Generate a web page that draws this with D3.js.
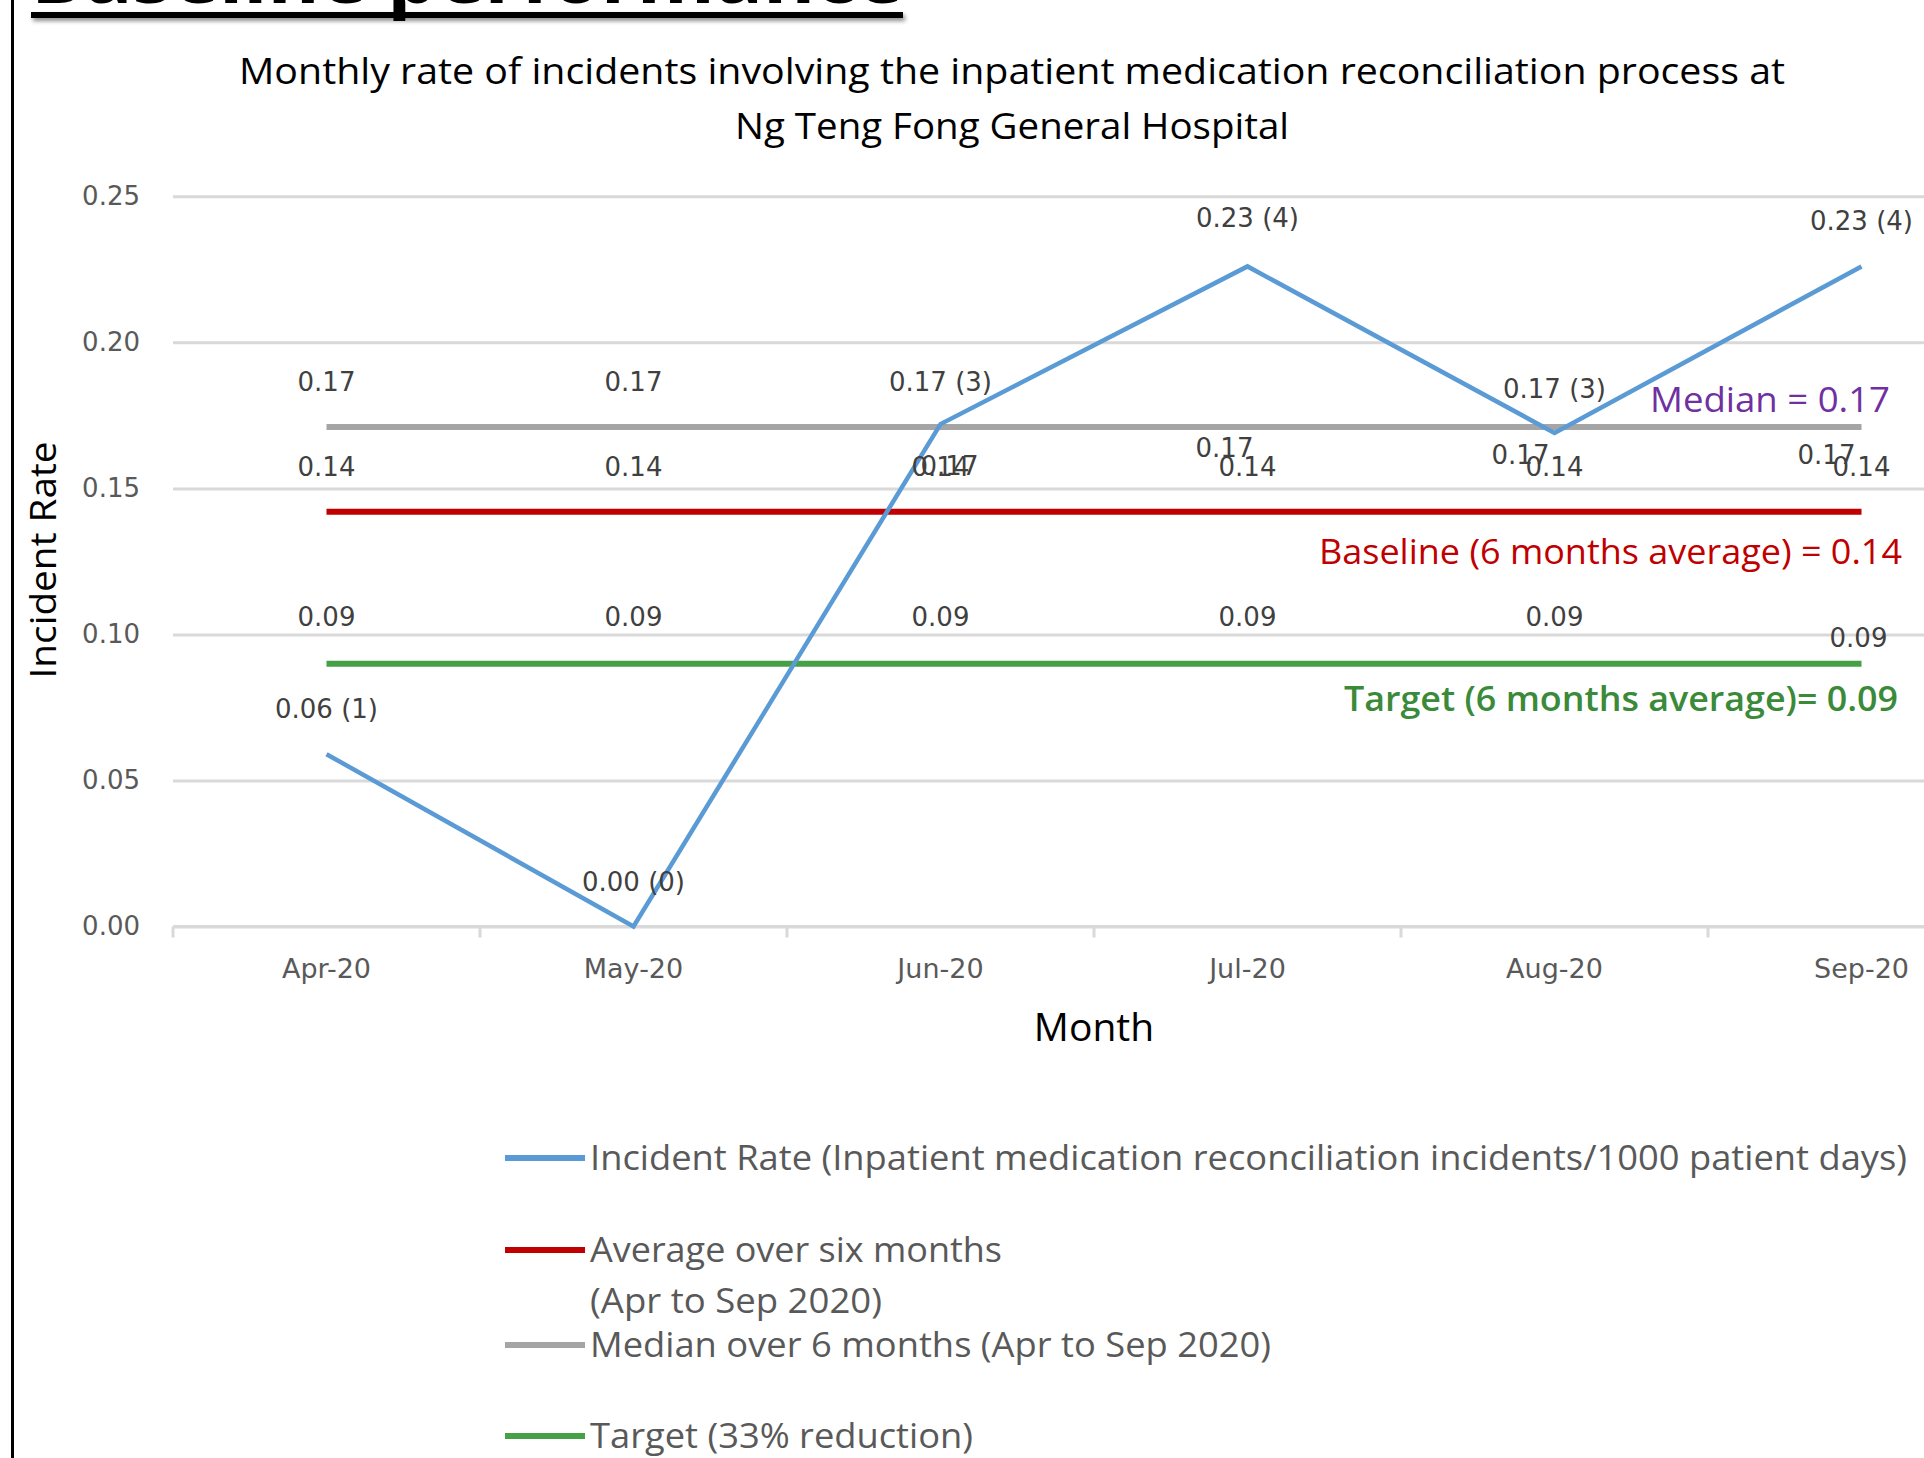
<!DOCTYPE html>
<html>
<head>
<meta charset="utf-8">
<script src="https://cdn.jsdelivr.net/npm/d3@7"></script>
<style>
  html, body { margin: 0; padding: 0; background: #ffffff; }
  svg { display: block; }
</style>
</head>
<body>
<svg id="chart" width="1924" height="1458"></svg>
<script>
// ---------------- DATA ----------------
const months = ["Apr-20", "May-20", "Jun-20", "Jul-20", "Aug-20", "Sep-20"];
const incidentRate = [0.059, 0.000, 0.172, 0.226, 0.169, 0.226];
const incidentCounts = [1, 0, 3, 4, 3, 4];
const medianValues = [0.171, 0.171, 0.171, 0.171, 0.171, 0.171];
const baselineValues = [0.142, 0.142, 0.142, 0.142, 0.142, 0.142];
const targetValues = [0.090, 0.090, 0.090, 0.090, 0.090, 0.090];
const yTicks = [0.00, 0.05, 0.10, 0.15, 0.20, 0.25];

const headerText = "Baseline performance";
const titleLines = [
  "Monthly rate of incidents involving the inpatient medication reconciliation process at",
  "Ng Teng Fong General Hospital"
];
const yLabel = "Incident Rate";
const xLabel = "Month";
const medianNote = "Median = 0.17";
const baselineNote = "Baseline (6 months average) = 0.14";
const targetNote = "Target (6 months average)= 0.09";
const legendItems = [
  { lines: ["Incident Rate (Inpatient medication reconciliation incidents/1000 patient days)"], color: "#5B9BD5" },
  { lines: ["Average over six months", "(Apr to Sep 2020)"], color: "#C00000" },
  { lines: ["Median over 6 months (Apr to Sep 2020)"], color: "#A5A5A5" },
  { lines: ["Target (33% reduction)"], color: "#46A046" }
];

// ---------------- LAYOUT ----------------
const svg = d3.select("#chart");
const plotLeft = 173, plotRight = 2015, plotTop = 196.3, plotBottom = 926.5;
const fmt = d3.format(".2f");

const x = d3.scaleBand().domain(months).range([plotLeft, plotRight]).padding(0);
const cx = m => x(m) + x.bandwidth() / 2;
const y = d3.scaleLinear().domain([0, 0.25]).range([plotBottom, plotTop]);

// drop shadow filter for header underline
const defs = svg.append("defs");
const f = defs.append("filter").attr("id", "shadow").attr("x", "-5%").attr("y", "-100%").attr("width", "110%").attr("height", "400%");
f.append("feDropShadow").attr("dx", 2).attr("dy", 3).attr("stdDeviation", 2).attr("flood-color", "#000").attr("flood-opacity", 0.45);

// left border
svg.append("rect").attr("x", 11).attr("y", 0).attr("width", 3).attr("height", 1458).attr("fill", "#000");

// header (cut off at top)
svg.append("text").attr("x", 31).attr("y", 3)
  .attr("font-family", "'Open Sans', sans-serif").attr("font-weight", 700)
  .attr("font-size", 74).attr("fill", "#000")
  .attr("textLength", 872).attr("lengthAdjust", "spacingAndGlyphs")
  .text(headerText);
svg.append("rect").attr("x", 31).attr("y", 12).attr("width", 872).attr("height", 6)
  .attr("fill", "#000").attr("filter", "url(#shadow)");

// chart title
const titleY = [71, 126];
const titleW = [1546, 554];
titleLines.forEach((t, i) => {
  svg.append("text").attr("x", 1012).attr("y", titleY[i]).attr("dy", "0.35em")
    .attr("text-anchor", "middle")
    .attr("font-family", "'Open Sans', sans-serif").attr("font-size", 37).attr("fill", "#000")
    .attr("textLength", titleW[i]).attr("lengthAdjust", "spacingAndGlyphs")
    .text(t);
});

// gridlines
const grid = svg.append("g").attr("transform", `translate(${plotLeft},0)`)
  .call(d3.axisLeft(y).tickValues(yTicks).tickSize(-(plotRight - plotLeft)).tickFormat(""));
grid.select(".domain").remove();
grid.selectAll("line").attr("stroke", "#D9D9D9").attr("stroke-width", 3);

// y axis labels
const yAxis = svg.append("g").attr("transform", `translate(${plotLeft},0)`)
  .call(d3.axisLeft(y).tickValues(yTicks).tickSize(0).tickPadding(33).tickFormat(fmt));
yAxis.select(".domain").remove();
yAxis.selectAll("text").attr("font-family", "'DejaVu Sans', sans-serif").attr("font-size", 26)
  .attr("fill", "#595959");

// x axis
const xAxis = svg.append("g").attr("transform", `translate(0,${plotBottom})`)
  .call(d3.axisBottom(x).tickSize(0).tickPadding(32));
xAxis.select(".domain").remove();
xAxis.selectAll("text").attr("font-family", "'DejaVu Sans', sans-serif").attr("font-size", 27)
  .attr("fill", "#595959");
svg.append("line").attr("x1", plotLeft).attr("x2", plotRight).attr("y1", y(0)).attr("y2", y(0))
  .attr("stroke", "#D9D9D9").attr("stroke-width", 3);
const boundaries = months.map(m => x(m)).concat([x(months[months.length - 1]) + x.bandwidth()]);
svg.selectAll("line.bt").data(boundaries).enter().append("line").attr("class", "bt")
  .attr("x1", d => d).attr("x2", d => d).attr("y1", y(0)).attr("y2", y(0) + 11)
  .attr("stroke", "#D9D9D9").attr("stroke-width", 3);

// axis titles
svg.append("text").attr("transform", "translate(43,560) rotate(-90)").attr("dy", "0.35em")
  .attr("text-anchor", "middle").attr("font-family", "'Open Sans', sans-serif")
  .attr("font-size", 37).attr("fill", "#000")
  .attr("textLength", 237).attr("lengthAdjust", "spacingAndGlyphs").text(yLabel);
svg.append("text").attr("x", (plotLeft + plotRight) / 2).attr("y", 1027).attr("dy", "0.35em")
  .attr("text-anchor", "middle").attr("font-family", "'Open Sans', sans-serif")
  .attr("font-size", 39).attr("fill", "#000").text(xLabel);

// series lines
const lineGen = vals => d3.line().x((d, i) => cx(months[i])).y(d => y(d))(vals);
const series = [
  { vals: medianValues, color: "#A5A5A5", w: 6 },
  { vals: baselineValues, color: "#C00000", w: 6 },
  { vals: targetValues, color: "#46A046", w: 6 },
  { vals: incidentRate, color: "#5B9BD5", w: 4.5 }
];
series.forEach(s => {
  svg.append("path").attr("d", lineGen(s.vals)).attr("fill", "none")
    .attr("stroke", s.color).attr("stroke-width", s.w).attr("stroke-linejoin", "miter");
});

// data labels (offsets are label placement, in px)
function labels(vals, texts, dx, dy) {
  vals.forEach((v, i) => {
    svg.append("text").attr("x", cx(months[i]) + dx[i]).attr("y", y(v) + dy[i]).attr("dy", "0.35em")
      .attr("text-anchor", "middle").attr("font-family", "'DejaVu Sans', sans-serif")
      .attr("font-size", 26).attr("fill", "#404040").text(texts[i]);
  });
}
labels(medianValues, medianValues.map(fmt), [0, 0, 9, -23, -34, -35], [-45, -45, 39, 21, 28, 28]);
labels(baselineValues, baselineValues.map(fmt), [0, 0, 0, 0, 0, 0], [-45, -45, -45, -45, -45, -45]);
labels(targetValues, targetValues.map(fmt), [0, 0, 0, 0, 0, -3], [-47, -47, -47, -47, -47, -26]);
labels(incidentRate, incidentRate.map((v, i) => `${fmt(v)} (${incidentCounts[i]})`),
  [0, 0, 0, 0, 0, 0], [-45, -45, -42, -48, -44, -45]);

// annotations
function note(t, x0, yc, len, color, weight) {
  svg.append("text").attr("x", x0).attr("y", yc).attr("dy", "0.35em")
    .attr("font-family", "'Open Sans', sans-serif").attr("font-size", 35)
    .attr("font-weight", weight).attr("fill", color)
    .attr("textLength", len).attr("lengthAdjust", "spacingAndGlyphs").text(t);
}
note(medianNote, 1650, 400, 240, "#7030A0", 400);
note(baselineNote, 1319, 552, 583, "#C00000", 400);
note(targetNote, 1344, 699, 554, "#3A8A3A", 600);

// legend
const legendY = [[1158], [1250, 1301], [1345], [1436]];
const legendW = [[1317], [412, 292], [681], [383]];
legendItems.forEach((item, i) => {
  svg.append("line").attr("x1", 505).attr("x2", 585).attr("y1", legendY[i][0]).attr("y2", legendY[i][0])
    .attr("stroke", item.color).attr("stroke-width", 6);
  item.lines.forEach((t, j) => {
    svg.append("text").attr("x", 590).attr("y", legendY[i][j]).attr("dy", "0.35em")
      .attr("font-family", "'Open Sans', sans-serif").attr("font-size", 35).attr("fill", "#595959")
      .attr("textLength", legendW[i][j]).attr("lengthAdjust", "spacingAndGlyphs").text(t);
  });
});
</script>
</body>
</html>
